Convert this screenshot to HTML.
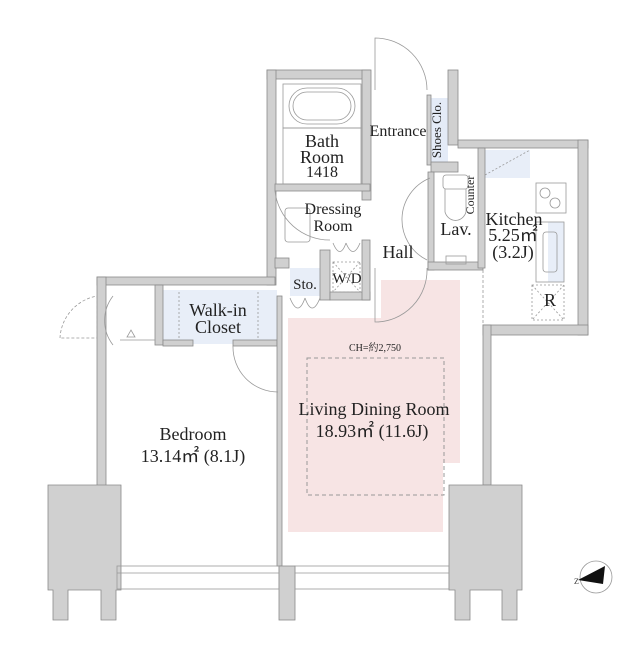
<!DOCTYPE html>
<html><head><meta charset="utf-8"><style>
html,body{margin:0;padding:0;background:#fff;}
svg{display:block;font-family:"Liberation Serif",serif;}
</style></head><body>
<svg width="630" height="650" viewBox="0 0 630 650" xmlns="http://www.w3.org/2000/svg">
<rect x="381" y="280" width="79" height="183" fill="#f7e4e4"/>
<rect x="288" y="318" width="155" height="214" fill="#f7e4e4"/>
<rect x="307" y="358" width="137" height="137" fill="none" stroke="#999" stroke-dasharray="4,3" stroke-width="1"/>
<rect x="163" y="290" width="114" height="54" fill="#e8eef8"/>
<rect x="290" y="268" width="30" height="28" fill="#e8eef8"/>
<rect x="428" y="98" width="20" height="65" fill="#e4ebf7"/>
<rect x="485" y="150" width="45" height="28" fill="#e8eef8"/>
<rect x="548" y="222" width="16" height="60" fill="#e8eef8"/>
<g fill="#d0d0d0" stroke="#8a8a8a" stroke-width="0.8">
<rect x="267" y="70" width="103" height="9"/>
<rect x="267" y="70" width="9" height="215"/>
<rect x="362" y="70" width="9" height="130"/>
<rect x="275" y="184" width="95" height="7"/>
<rect x="275" y="258" width="14" height="10"/>
<rect x="320" y="250" width="10" height="50"/>
<rect x="330" y="292" width="40" height="8"/>
<rect x="362" y="240" width="8" height="60"/>
<rect x="448" y="70" width="10" height="75"/>
<rect x="427" y="95" width="4" height="70"/>
<rect x="431" y="162" width="27" height="10"/>
<rect x="428" y="172" width="6" height="98"/>
<rect x="428" y="262" width="55" height="8"/>
<rect x="458" y="140" width="130" height="8"/>
<rect x="578" y="140" width="10" height="195"/>
<rect x="478" y="148" width="7" height="120"/>
<rect x="483" y="325" width="105" height="10"/>
<rect x="483" y="325" width="8" height="160"/>
<rect x="97" y="277" width="178" height="8"/>
<rect x="97" y="277" width="9" height="210"/>
<rect x="155" y="285" width="8" height="60"/>
<rect x="163" y="340" width="30" height="6"/>
<rect x="233" y="340" width="44" height="6"/>
<rect x="277" y="296" width="5" height="270"/>
<path d="M48 485 H121 V590 H116 V620 H101 V590 H68 V620 H53 V590 H48 Z"/>
<path d="M449 485 H522 V590 H517 V620 H502 V590 H470 V620 H455 V590 H449 Z"/>
<rect x="279" y="566" width="16" height="54"/>
</g>
<g fill="none" stroke="#999" stroke-width="0.8">
<rect x="117" y="566" width="162" height="23"/>
<line x1="117" y1="573" x2="279" y2="573"/>
<rect x="295" y="566" width="154" height="23"/>
<line x1="295" y1="573" x2="449" y2="573"/>
<rect x="283" y="84" width="78" height="44"/>
<rect x="289" y="88" width="66" height="36" rx="18"/>
<rect x="293" y="92" width="58" height="28" rx="14"/>
<rect x="283" y="128" width="78" height="56"/>
<path d="M375 90 V38 A52 52 0 0 1 427 90"/>
<path d="M430 178 A45 45 0 0 0 427 260"/>
<path d="M375 268 V322 A52 52 0 0 0 427 268"/>
<path d="M275 191 A55 55 0 0 0 330 240"/>
<path d="M233 346 A45 45 0 0 0 278 392"/>
<path d="M113 296 A40 40 0 0 0 113 345"/>
<path d="M60 338 A45 45 0 0 1 97 296 V338 Z" stroke-dasharray="3,2"/>
<path d="M290 298 Q298 318 305 298 M305 298 Q312 318 320 298"/>
<path d="M333 243 Q340 260 346 243 M346 243 Q353 260 360 243"/>
<rect x="333" y="262" width="27" height="30" stroke-dasharray="2,2"/>
<line x1="333" y1="262" x2="360" y2="292" stroke-dasharray="2,2"/><line x1="360" y1="262" x2="333" y2="292" stroke-dasharray="2,2"/>
<rect x="285" y="208" width="25" height="34" rx="3"/>
<rect x="443" y="175" width="25" height="14" rx="3"/>
<path d="M445 189 V212 A11 12 0 0 0 466 212 V189"/>
<rect x="446" y="256" width="20" height="8"/>
<rect x="536" y="183" width="30" height="30"/>
<circle cx="545" cy="193" r="5"/><circle cx="555" cy="203" r="5"/>
<rect x="536" y="222" width="28" height="60"/>
<rect x="543" y="232" width="14" height="40" rx="3"/>
<rect x="532" y="285" width="32" height="35" stroke-dasharray="2,2"/>
<line x1="532" y1="285" x2="564" y2="320" stroke-dasharray="2,2"/><line x1="564" y1="285" x2="532" y2="320" stroke-dasharray="2,2"/>
<line x1="485" y1="175" x2="530" y2="150" stroke-dasharray="2,2"/>
<line x1="483" y1="270" x2="483" y2="325" stroke-dasharray="3,2"/>
<line x1="179" y1="292" x2="179" y2="340" stroke-dasharray="2,2"/>
<line x1="258" y1="292" x2="258" y2="340" stroke-dasharray="2,2"/>
<line x1="120" y1="340" x2="155" y2="340"/>
<path d="M127 337 L131 330 L135 337 Z"/>
<circle cx="596" cy="577" r="16"/>
</g>
<path d="M578 580 L605 566 L603 584 Z" fill="#111"/>
<text x="574" y="584" font-size="8" fill="#333">Z</text>
<g fill="#222" text-anchor="middle" font-size="18">
<text x="322" y="147">Bath</text>
<text x="322" y="163">Room</text>
<text x="322" y="177" font-size="16">1418</text>
<text x="398" y="136" font-size="16">Entrance</text>
<text x="438" y="130" font-size="13" transform="rotate(-90 438 130)" dominant-baseline="middle">Shoes Clo.</text>
<text x="471" y="195" font-size="12" transform="rotate(-90 471 195)" dominant-baseline="middle">Counter</text>
<text x="333" y="214" font-size="16">Dressing</text>
<text x="333" y="231" font-size="16">Room</text>
<text x="456" y="235">Lav.</text>
<text x="398" y="258">Hall</text>
<text x="514" y="225">Kitchen</text>
<text x="513" y="241">5.25㎡</text>
<text x="513" y="258">(3.2J)</text>
<text x="347" y="283" font-size="15">W/D</text>
<text x="305" y="289" font-size="15">Sto.</text>
<text x="550" y="306">R</text>
<text x="218" y="316">Walk-in</text>
<text x="218" y="333">Closet</text>
<text x="375" y="351" font-size="10" font-family="Liberation Serif, Noto Serif CJK SC, serif">CH=約2,750</text>
<text x="374" y="415">Living Dining Room</text>
<text x="372" y="437">18.93㎡ (11.6J)</text>
<text x="193" y="440">Bedroom</text>
<text x="193" y="462">13.14㎡ (8.1J)</text>
</g>
</svg>
</body></html>
